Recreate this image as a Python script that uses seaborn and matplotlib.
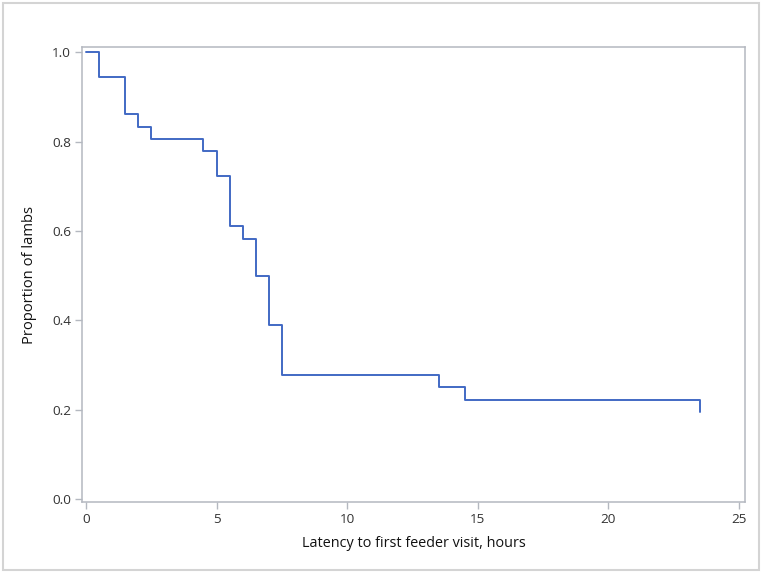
import matplotlib
matplotlib.use("Agg")
import matplotlib.pyplot as plt
import seaborn as sns
import pandas as pd
from matplotlib.patches import Rectangle

# Data (Kaplan-Meier style step curve)
latency_hours = [0, 0.5, 1.5, 2, 2.5, 4.5, 5, 5.5, 6, 6.5, 7, 7.5, 13.5, 14.5, 23.5]
proportion = [1.0, 0.944, 0.861, 0.833, 0.806, 0.778, 0.722, 0.611, 0.583, 0.5,
              0.389, 0.278, 0.25, 0.222, 0.194]
x_ticks = [0, 5, 10, 15, 20, 25]
y_ticks = [0.0, 0.2, 0.4, 0.6, 0.8, 1.0]
x_label = "Latency to first feeder visit, hours"
y_label = "Proportion of lambs"

df = pd.DataFrame({"t": latency_hours, "p": proportion})

sns.set_theme(style="white")
plt.rcParams['font.family'] = ['Open Sans', 'DejaVu Sans']

W, H = 764, 575
fig = plt.figure(figsize=(W / 100, H / 100), dpi=100)
ax = fig.add_axes([82 / W, 1 - 502 / H, (745 - 82) / W, (502 - 47) / H])

sns.lineplot(data=df, x="t", y="p", ax=ax, drawstyle="steps-post",
             color="#4169C4", linewidth=1.4, sort=False)

ax.set_xlim(-0.15, 25.23)
ax.set_ylim(-0.007, 1.012)
ax.set_xticks(x_ticks)
ax.set_xticklabels([str(v) for v in x_ticks])
ax.set_yticks(y_ticks)
ax.set_yticklabels([f"{v:.1f}" for v in y_ticks])

frame_c = "#b4b8c0"
for s in ax.spines.values():
    s.set_color(frame_c)
    s.set_linewidth(1.1)
    s.set_visible(True)

ax.tick_params(axis="both", which="major", direction="out", length=5,
               width=1, color=frame_c, labelsize=9.7, labelcolor="#333333",
               bottom=True, left=True, pad=3)

ax.set_xlabel(x_label, fontsize=10.4, color="#111111", labelpad=7)
ax.set_ylabel(y_label, fontsize=10.6, color="#111111", labelpad=11)

# outer light border around the whole image
fig.patches.append(Rectangle((3 / W, 1 - 570 / H), 756 / W, 567 / H,
                             transform=fig.transFigure, fill=False,
                             edgecolor="#d4d4d4", linewidth=1.5))

fig.savefig("out.png", dpi=100)
